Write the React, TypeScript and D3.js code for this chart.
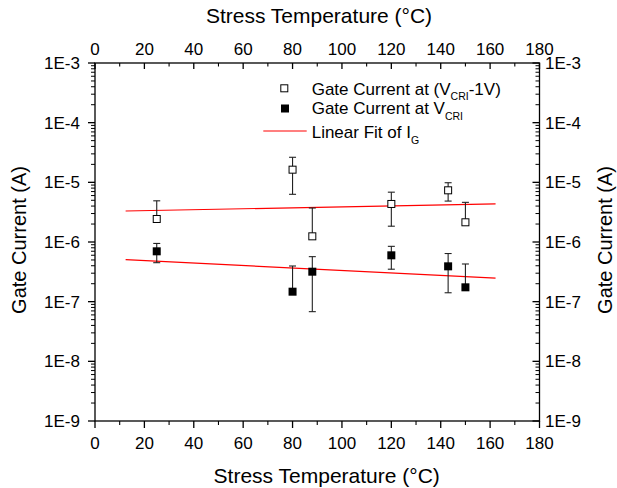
import React from "react";
import * as d3 from "d3";

const temps = [25, 80, 88, 120, 143, 150];
const igOpen = [2.43e-6, 1.63e-5, 1.245e-6, 4.34e-6, 7.35e-6, 2.14e-6];
const igOpenErr = [2.47e-6, 1.0e-5, 2.47e-6, 2.5e-6, 2.5e-6, 2.48e-6];
const igFilled = [6.98e-7, 1.47e-7, 3.18e-7, 5.98e-7, 3.91e-7, 1.74e-7];
const igFilledErr = [2.48e-7, 2.49e-7, 2.5e-7, 2.48e-7, 2.5e-7, 2.54e-7];
const fitX = [12.4, 162.2];
const fitOpen = [3.31e-6, 4.34e-6];
const fitFilled = [5.06e-7, 2.49e-7];
const xTicks = [0, 20, 40, 60, 80, 100, 120, 140, 160, 180];
const yTicks = [1e-9, 1e-8, 1e-7, 1e-6, 1e-5, 1e-4, 1e-3];
const yTickLabels = ["1E-9", "1E-8", "1E-7", "1E-6", "1E-5", "1E-4", "1E-3"];

const W = 617, H = 488;
const L = 95, R = 539.5, T = 63, B = 421;
const FONT = "'Liberation Sans', Arial, sans-serif";

export default function App() {
  const x = d3.scaleLinear().domain([0, 180]).range([L, R]);
  const y = d3.scaleLog().domain([1e-9, 1e-3]).range([B, T]);
  const xMinor = d3.range(10, 180, 20);
  const yMinor: number[] = [];
  for (let e = -9; e < -3; e++) for (let m = 2; m <= 9; m++) yMinor.push(m * Math.pow(10, e));
  const line = d3.line<[number, number]>().x(d => x(d[0])).y(d => y(d[1]));
  const ax = "#000";

  const errBars = (vals: number[], errs: number[]) =>
    temps.map((t, i) => {
      const cx = x(t);
      const top = y(vals[i] + errs[i]);
      const lowV = vals[i] - errs[i];
      const bot = lowV > 0 ? y(lowV) : y(vals[i]);
      return (
        <g key={i} stroke="#222" strokeWidth={1.1}>
          <line x1={cx} x2={cx} y1={top} y2={bot} />
          <line x1={cx - 3.5} x2={cx + 3.5} y1={top} y2={top} />
          {lowV > 0 && <line x1={cx - 3.5} x2={cx + 3.5} y1={bot} y2={bot} />}
        </g>
      );
    });

  return (
    <svg width={W} height={H} style={{ position: "absolute", left: 0, top: 0, background: "#fff" }} fontFamily={FONT}>
      <rect width={W} height={H} fill="#fff" />
      {/* fit lines */}
      <path d={line(fitX.map((v, i) => [v, fitOpen[i]]) as any) || ""} stroke="#ff0000" strokeWidth={1.2} fill="none" />
      <path d={line(fitX.map((v, i) => [v, fitFilled[i]]) as any) || ""} stroke="#ff0000" strokeWidth={1.2} fill="none" />
      {/* error bars */}
      {errBars(igOpen, igOpenErr)}
      {errBars(igFilled, igFilledErr)}
      {/* markers */}
      {temps.map((t, i) => (
        <rect key={"o" + i} x={x(t) - 3.5} y={y(igOpen[i]) - 3.5} width={7} height={7} fill="#fff" stroke="#000" strokeWidth={1} />
      ))}
      {temps.map((t, i) => (
        <rect key={"f" + i} x={x(t) - 4} y={y(igFilled[i]) - 4} width={8} height={8} fill="#000" />
      ))}
      {/* frame */}
      <rect x={L} y={T} width={R - L} height={B - T} fill="none" stroke={ax} strokeWidth={1.3} />
      {/* x ticks bottom (outward) and top (inward) */}
      {xTicks.map(v => (
        <g key={"xt" + v} stroke={ax} strokeWidth={1.3}>
          <line x1={x(v)} x2={x(v)} y1={B} y2={B + 7} />
          <line x1={x(v)} x2={x(v)} y1={T} y2={T + 6} />
        </g>
      ))}
      {xMinor.map(v => (
        <g key={"xm" + v} stroke={ax} strokeWidth={1.1}>
          <line x1={x(v)} x2={x(v)} y1={B} y2={B + 4} />
          <line x1={x(v)} x2={x(v)} y1={T} y2={T + 3.5} />
        </g>
      ))}
      {/* y ticks left (outward) and right (inward) */}
      {yTicks.map(v => (
        <g key={"yt" + v} stroke={ax} strokeWidth={1.3}>
          <line x1={L - 7} x2={L} y1={y(v)} y2={y(v)} />
          <line x1={R - 7} x2={R} y1={y(v)} y2={y(v)} />
        </g>
      ))}
      {yMinor.map(v => (
        <g key={"ym" + v} stroke={ax} strokeWidth={1}>
          <line x1={L - 4} x2={L} y1={y(v)} y2={y(v)} />
          <line x1={R - 4} x2={R} y1={y(v)} y2={y(v)} />
        </g>
      ))}
      {/* tick labels */}
      {xTicks.map(v => (
        <text key={"xl" + v} x={x(v)} y={449} fontSize={17} textAnchor="middle" fill="#000">{v}</text>
      ))}
      {xTicks.map(v => (
        <text key={"xlt" + v} x={x(v)} y={55} fontSize={17} textAnchor="middle" fill="#000">{v}</text>
      ))}
      {yTicks.map((v, i) => (
        <text key={"yl" + v} x={80} y={y(v) + 6} fontSize={17} textAnchor="end" fill="#000">{yTickLabels[i]}</text>
      ))}
      {yTicks.map((v, i) => (
        <text key={"ylr" + v} x={545} y={y(v) + 6} fontSize={17} textAnchor="start" fill="#000">{yTickLabels[i]}</text>
      ))}
      {/* axis titles */}
      <text x={326.7} y={483} fontSize={21} textAnchor="middle" fill="#000">Stress Temperature (°C)</text>
      <text x={319} y={22.7} fontSize={21} textAnchor="middle" fill="#000">Stress Temperature (°C)</text>
      <text transform="translate(25.5,240) rotate(-90)" fontSize={20} textAnchor="middle" fill="#000">Gate Current (A)</text>
      <text transform="translate(612,240) rotate(-90)" fontSize={20} textAnchor="middle" fill="#000">Gate Current (A)</text>
      {/* legend */}
      <rect x={280.8} y={84.8} width={7} height={7} fill="#fff" stroke="#000" strokeWidth={1} />
      <text x={311.7} y={95} fontSize={17} fill="#000">
        Gate Current at (V<tspan fontSize={10.5} dy={4.5}>CRI</tspan><tspan dy={-4.5}>-1V)</tspan>
      </text>
      <rect x={281} y={104.5} width={8} height={8} fill="#000" />
      <text x={311.7} y={114} fontSize={17} fill="#000">
        Gate Current at V<tspan fontSize={10.5} dy={6}>CRI</tspan>
      </text>
      <line x1={263.3} x2={306.7} y1={131} y2={131} stroke="#ff0000" strokeWidth={1.2} />
      <text x={311.7} y={137.5} fontSize={17} fill="#000">
        Linear Fit of I<tspan fontSize={10.5} dy={6}>G</tspan>
      </text>
    </svg>
  );
}
